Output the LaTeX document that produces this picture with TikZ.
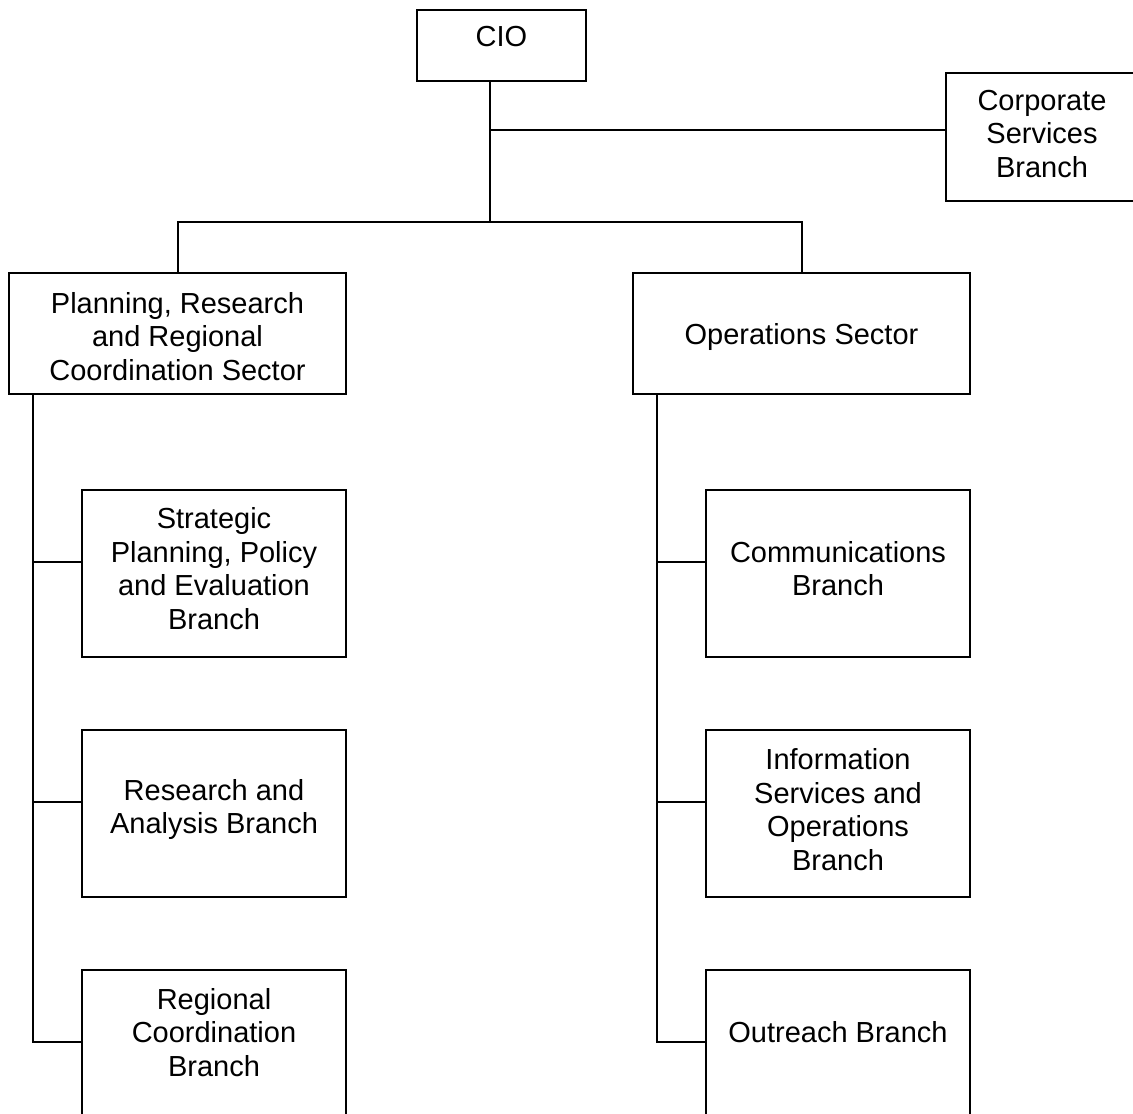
\documentclass[tikz,border=0pt]{standalone}
\usepackage{fontspec}
\setmainfont{Liberation Sans}
\begin{document}
\begin{tikzpicture}[x=0.5pt, y=-0.5pt, line width=1pt,
  box/.style={draw, rectangle, inner sep=0pt},
  unit/.style={box, minimum width=132pt, minimum height=83.5pt},
  sector/.style={box, minimum width=168.5pt, minimum height=60.5pt},
  txt/.style={align=center, inner sep=0pt, font=\fontsize{14.5}{16.75}\selectfont}]
\path[use as bounding box, fill=white] (0,0) rectangle (1133,1113);
\clip (0,0) rectangle (1133,1113);

% top level
\node[box, minimum width=84.5pt, minimum height=35.5pt,
  label={[txt,yshift=4.25pt]center:CIO}] (cio) at (501.5,45.5) {};
\node[box, minimum width=104pt, minimum height=64pt,
  label={[txt,xshift=-4pt,yshift=1.5pt]center:{Corporate\\Services\\Branch}}] (corp) at (1050,137) {};

% sectors
\node[sector, label={[txt,yshift=-1.5pt]center:{Planning, Research\\and Regional\\Coordination Sector}}] (plan) at (177.5,333.5) {};
\node[sector, label={[txt,yshift=-1.5pt]center:{Operations Sector}}] (ops) at (801.5,333.5) {};

% branches
\node[unit, label={[txt,yshift=2.5pt]center:{Strategic\\Planning, Policy\\and Evaluation\\Branch}}] (strat) at (214,573.5) {};
\node[unit, label={[txt,yshift=2pt]center:{Research and\\Analysis Branch}}] (rsch) at (214,813.5) {};
\node[unit, label={[txt,yshift=10.5pt]center:{Regional\\Coordination\\Branch}}] (regn) at (214,1053.5) {};
\node[unit, label={[txt,yshift=2.5pt]center:{Communications\\Branch}}] (comm) at (838,573.5) {};
\node[unit, label={[txt,yshift=2pt]center:{Information\\Services and\\Operations\\Branch}}] (info) at (838,813.5) {};
\node[unit, label={[txt,yshift=10.5pt]center:{Outreach Branch}}] (outr) at (838,1053.5) {};

% connectors
\coordinate (top) at (490,130);
\coordinate (mid) at (490,222);
\draw (cio.south -| top) -- (mid);
\draw (top) -- (top -| corp.west);
\draw (plan.north) |- (mid) -| (ops.north);

\coordinate (lsp) at ([xshift=12.5pt]plan.south west);
\coordinate (rsp) at ([xshift=12.5pt]ops.south west);
\draw (lsp) |- ([yshift=6pt]regn.west);
\draw (rsp) |- ([yshift=6pt]outr.west);
\foreach \b in {strat,rsch,comm,info}
  \draw ([yshift=6pt]\b.west) -- +(-24pt,0);
\end{tikzpicture}
\end{document}
